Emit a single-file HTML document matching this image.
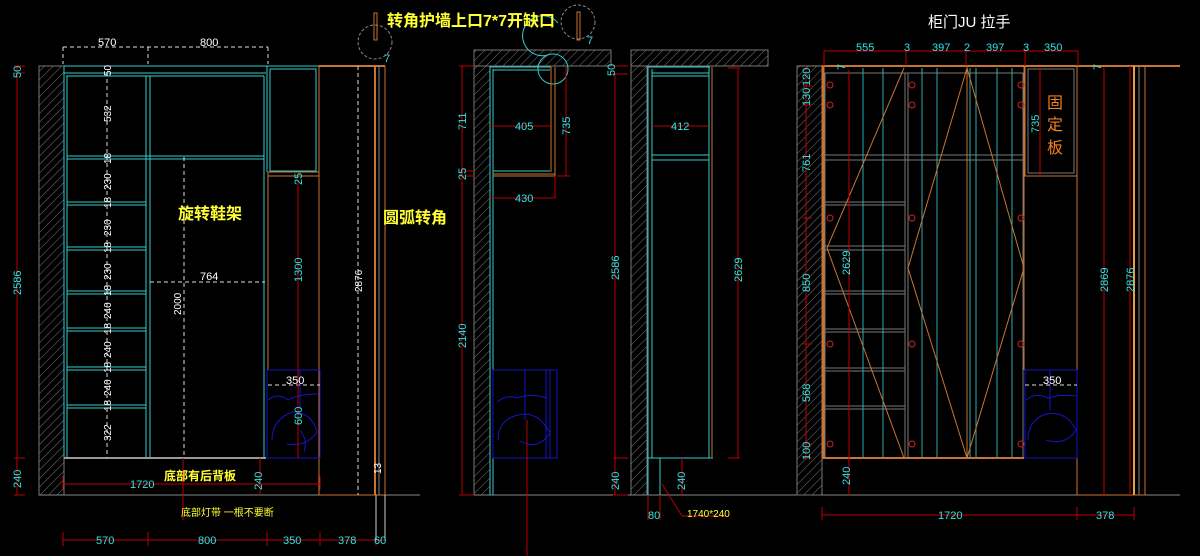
<!DOCTYPE html>
<html><head><meta charset="utf-8"><style>
html,body{margin:0;padding:0;background:#000;width:1200px;height:556px;overflow:hidden}
svg{display:block}
text{font-family:"Liberation Sans","Noto Sans CJK SC",sans-serif}
.c{fill:#2ee6e6;font-size:11px}
.w{fill:#fff;font-size:11px}
.y{fill:#ffff33}
</style></head><body>
<svg width="1200" height="556" viewBox="0 0 1200 556">
<defs>
<pattern id="h" width="6" height="6" patternUnits="userSpaceOnUse" patternTransform="rotate(45)">
<line x1="0" y1="0" x2="0" y2="6" stroke="#777" stroke-width="1"/></pattern>
</defs>
<g fill="none" stroke-width="1">
<!-- ===== LEFT ===== -->
<rect x="39" y="66" width="25" height="429" fill="url(#h)" stroke="#777"/>
<line x1="39" y1="495" x2="420" y2="495" stroke="#888"/>
<line x1="64" y1="66" x2="320" y2="66" stroke="#3cc"/>
<g stroke="#3cc">
<line x1="64" y1="73" x2="266" y2="73"/><line x1="66" y1="76" x2="264" y2="76"/>
<line x1="64" y1="66" x2="64" y2="458"/><line x1="67" y1="76" x2="67" y2="458"/>
<line x1="146" y1="76" x2="146" y2="458"/><line x1="150" y1="76" x2="150" y2="458"/>
<line x1="264" y1="76" x2="264" y2="458"/><line x1="267" y1="66" x2="267" y2="172"/>
<line x1="67" y1="156" x2="264" y2="156"/><line x1="67" y1="159" x2="264" y2="159"/>
<line x1="67" y1="202" x2="146" y2="202"/><line x1="67" y1="205" x2="146" y2="205"/>
<line x1="67" y1="247" x2="146" y2="247"/><line x1="67" y1="250" x2="146" y2="250"/>
<line x1="67" y1="291" x2="146" y2="291"/><line x1="67" y1="294" x2="146" y2="294"/>
<line x1="67" y1="328" x2="146" y2="328"/><line x1="67" y1="331" x2="146" y2="331"/>
<line x1="67" y1="367" x2="146" y2="367"/><line x1="67" y1="370" x2="146" y2="370"/>
<line x1="67" y1="405" x2="146" y2="405"/><line x1="67" y1="408" x2="146" y2="408"/>
<rect x="270" y="69" width="46" height="102"/>
</g>
<line x1="64" y1="458" x2="266" y2="458" stroke="#999" stroke-width="2"/>
<g stroke="#c87533">
<line x1="268" y1="172" x2="319" y2="172"/><line x1="268" y1="176" x2="319" y2="176"/>
<line x1="268" y1="172" x2="268" y2="370"/><line x1="319" y1="66" x2="319" y2="495"/>
<line x1="319" y1="66" x2="385" y2="66" stroke-width="2"/>
<line x1="375" y1="66" x2="375" y2="495" stroke-width="2"/><line x1="385" y1="66" x2="385" y2="495"/>
<line x1="319" y1="495" x2="385" y2="495"/>
</g>
<line x1="379" y1="66" x2="379" y2="495" stroke="#888"/>
<rect x="267" y="370" width="53" height="88" stroke="#1515c8"/>
<path d="M268 400 q10-8 20 0 q10-6 30-6 M272 440 q0-20 20-28 q20 0 25 20 q-10 15-30 12 M300 370 v40 M300 430 q8 10 4 22" stroke="#1515c8"/>
<g stroke="#ddd" stroke-dasharray="4,3">
<line x1="63" y1="47" x2="268" y2="47"/><line x1="107" y1="72" x2="107" y2="458"/>
<line x1="184" y1="157" x2="184" y2="458"/><line x1="150" y1="282" x2="265" y2="282"/>
<line x1="358" y1="66" x2="358" y2="495"/><line x1="268" y1="385" x2="320" y2="385"/>
<line x1="63" y1="47" x2="63" y2="64"/><line x1="148" y1="47" x2="148" y2="64"/><line x1="268" y1="47" x2="268" y2="64"/>
</g>
<g stroke="#b00">
<line x1="17" y1="66" x2="17" y2="495"/>
<line x1="14" y1="66" x2="25" y2="66"/><line x1="14" y1="73" x2="25" y2="73"/><line x1="14" y1="458" x2="25" y2="458"/><line x1="14" y1="495" x2="25" y2="495"/>
<line x1="298" y1="180" x2="298" y2="458"/>
<line x1="63" y1="484" x2="320" y2="484"/><line x1="63" y1="476" x2="63" y2="490"/><line x1="320" y1="476" x2="320" y2="490"/>
<line x1="260" y1="458" x2="260" y2="495"/>
<line x1="183" y1="458" x2="183" y2="520"/>
<line x1="63" y1="540" x2="385" y2="540"/>
<line x1="63" y1="532" x2="63" y2="546"/><line x1="148" y1="532" x2="148" y2="546"/><line x1="267" y1="532" x2="267" y2="546"/><line x1="320" y1="532" x2="320" y2="546"/><line x1="376" y1="532" x2="376" y2="546"/>
</g>
<line x1="376" y1="495" x2="376" y2="540" stroke="#ccc"/><line x1="385" y1="495" x2="385" y2="540" stroke="#ccc"/>
<circle cx="375" cy="42" r="17" stroke="#888" stroke-dasharray="3,2"/>
<rect x="374" y="13" width="3" height="27" stroke="#c87533"/>
<!-- ===== MIDDLE ===== -->
<rect x="474" y="66" width="16" height="429" fill="url(#h)" stroke="#777"/>
<rect x="474" y="50" width="137" height="16" fill="url(#h)" stroke="#777"/>
<rect x="631" y="66" width="16" height="429" fill="url(#h)" stroke="#777"/>
<rect x="631" y="50" width="137" height="16" fill="url(#h)" stroke="#777"/>
<line x1="462" y1="495" x2="1180" y2="495" stroke="#888"/>
<g stroke="#3cc">
<line x1="490" y1="66" x2="490" y2="495"/><line x1="493" y1="69" x2="493" y2="495"/>
<line x1="490" y1="67" x2="551" y2="67"/><line x1="493" y1="70" x2="550" y2="70"/>
<line x1="493" y1="171" x2="550" y2="171"/>
<circle cx="553" cy="69" r="15"/><path d="M548 55 a20 20 0 1 1 10-32"/>
<line x1="648" y1="66" x2="648" y2="495"/><line x1="652" y1="69" x2="652" y2="458"/>
<line x1="648" y1="67" x2="710" y2="67"/><line x1="652" y1="73" x2="709" y2="73"/><line x1="652" y1="76" x2="709" y2="76"/>
<line x1="652" y1="155" x2="709" y2="155"/><line x1="652" y1="160" x2="709" y2="160"/>
<line x1="709" y1="67" x2="709" y2="458"/><line x1="648" y1="458" x2="713" y2="458"/>
<line x1="660" y1="458" x2="660" y2="495"/>
</g>
<g stroke="#c87533">
<line x1="551" y1="67" x2="551" y2="172"/><line x1="555" y1="67" x2="555" y2="176"/>
<line x1="493" y1="174" x2="555" y2="174"/><line x1="493" y1="176" x2="555" y2="176"/>
<line x1="712" y1="67" x2="712" y2="458"/>
</g>
<rect x="577" y="12" width="3" height="28" stroke="#c87533"/>
<circle cx="578" cy="22" r="17" stroke="#888" stroke-dasharray="3,2"/>
<rect x="493" y="370" width="64" height="88" stroke="#1515c8"/>
<path d="M550 370 v88 M546 370 v88 M497 402 q10-8 20-4 q15-5 30 0 M498 440 q0-20 20-25 q20-5 32 18 q-12 18-30 8 M525 370 v50" stroke="#1515c8"/>
<g stroke="#b00">
<line x1="462" y1="66" x2="462" y2="495"/><line x1="459" y1="66" x2="474" y2="66"/><line x1="459" y1="495" x2="474" y2="495"/>
<line x1="459" y1="171" x2="474" y2="171"/><line x1="459" y1="176" x2="474" y2="176"/>
<line x1="490" y1="126" x2="550" y2="126"/><line x1="490" y1="198" x2="555" y2="198"/><line x1="555" y1="176" x2="555" y2="198"/>
<line x1="566" y1="66" x2="566" y2="176"/><line x1="557" y1="176" x2="570" y2="176"/>
<line x1="615" y1="74" x2="615" y2="495"/><line x1="610" y1="66" x2="628" y2="66"/><line x1="610" y1="74" x2="628" y2="74"/><line x1="613" y1="458" x2="628" y2="458"/><line x1="613" y1="495" x2="628" y2="495"/>
<line x1="652" y1="126" x2="709" y2="126"/>
<line x1="738" y1="68" x2="738" y2="458"/><line x1="728" y1="68" x2="740" y2="68"/><line x1="728" y1="458" x2="740" y2="458"/>
<line x1="682" y1="458" x2="682" y2="495"/>
<line x1="527" y1="420" x2="527" y2="556"/>
<path d="M662 484 L682 516 L726 516"/>
<line x1="648" y1="495" x2="648" y2="520"/><line x1="660" y1="495" x2="660" y2="520"/>
</g>
<!-- ===== RIGHT ===== -->
<rect x="797" y="66" width="25" height="429" fill="url(#h)" stroke="#777"/>
<line x1="797" y1="66" x2="1180" y2="66" stroke="#888"/>
<g stroke="#777">
<rect x="825" y="73" width="198" height="385"/>
<line x1="825" y1="155" x2="1023" y2="155"/><line x1="825" y1="160" x2="1023" y2="160"/>
<line x1="825" y1="202" x2="905" y2="202"/><line x1="825" y1="205" x2="905" y2="205"/>
<line x1="825" y1="246" x2="905" y2="246"/><line x1="825" y1="250" x2="905" y2="250"/>
<line x1="825" y1="291" x2="905" y2="291"/><line x1="825" y1="294" x2="905" y2="294"/>
<line x1="825" y1="329" x2="905" y2="329"/><line x1="825" y1="332" x2="905" y2="332"/>
<line x1="825" y1="368" x2="905" y2="368"/><line x1="825" y1="371" x2="905" y2="371"/>
<line x1="825" y1="406" x2="905" y2="406"/><line x1="825" y1="409" x2="905" y2="409"/>
<line x1="905" y1="73" x2="905" y2="458"/><line x1="908" y1="73" x2="908" y2="458"/>
</g>
<g stroke="#3aa">
<line x1="863" y1="68" x2="863" y2="458"/><line x1="883" y1="68" x2="883" y2="458"/>
<line x1="922" y1="68" x2="922" y2="458"/><line x1="937" y1="68" x2="937" y2="458"/>
<line x1="970" y1="68" x2="970" y2="458"/><line x1="976" y1="68" x2="976" y2="458"/>
<line x1="997" y1="68" x2="997" y2="458"/><line x1="1012" y1="68" x2="1012" y2="458"/>
</g>
<g stroke="#c87533">
<line x1="822" y1="66" x2="1180" y2="66" stroke-width="2"/>
<line x1="823" y1="66" x2="823" y2="458" stroke-width="3"/>
<line x1="822" y1="458" x2="1024" y2="458" stroke-width="2"/>
<line x1="967" y1="68" x2="967" y2="458"/>
<path d="M904 68 L827 248 L904 458 M967 68 L908 268 L967 458 L1024 268 Z"/>
<rect x="1025" y="66" width="52" height="110"/><rect x="1028" y="69" width="46" height="104" stroke="#777"/>
<line x1="1024" y1="66" x2="1024" y2="370"/>
<line x1="1077" y1="66" x2="1077" y2="495"/>
<line x1="1077" y1="495" x2="1145" y2="495"/>
<line x1="1134" y1="66" x2="1134" y2="495" stroke="#e8a040" stroke-width="2"/>
<line x1="1145" y1="66" x2="1145" y2="495"/>
</g>
<line x1="1139" y1="66" x2="1139" y2="495" stroke="#888"/>
<rect x="1025" y="370" width="52" height="88" stroke="#1515c8"/>
<path d="M1026 400 q10-8 22-2 q12-4 28-2 M1028 440 q0-20 18-26 q20-4 30 16 q-10 16-30 10 M1050 370 v40" stroke="#1515c8"/>
<g stroke="#c22">
<circle cx="830" cy="85" r="3"/><circle cx="830" cy="105" r="3"/><circle cx="830" cy="218" r="3"/><circle cx="830" cy="344" r="3"/><circle cx="830" cy="444" r="3"/>
<circle cx="912" cy="85" r="3"/><circle cx="912" cy="105" r="3"/><circle cx="912" cy="218" r="3"/><circle cx="912" cy="344" r="3"/><circle cx="912" cy="444" r="3"/>
<circle cx="1021" cy="85" r="3"/><circle cx="1021" cy="105" r="3"/><circle cx="1021" cy="218" r="3"/><circle cx="1021" cy="344" r="3"/><circle cx="1021" cy="444" r="3"/>
</g>
<g stroke="#b00">
<line x1="824" y1="51" x2="1078" y2="51"/>
<line x1="824" y1="51" x2="824" y2="66"/><line x1="906" y1="51" x2="906" y2="66"/><line x1="966" y1="51" x2="966" y2="66"/><line x1="1025" y1="51" x2="1025" y2="66"/><line x1="1078" y1="51" x2="1078" y2="66"/>
<line x1="806" y1="66" x2="806" y2="458"/>
<line x1="803" y1="86" x2="812" y2="86"/><line x1="803" y1="105" x2="812" y2="105"/><line x1="803" y1="218" x2="812" y2="218"/><line x1="803" y1="344" x2="812" y2="344"/><line x1="803" y1="444" x2="812" y2="444"/><line x1="803" y1="458" x2="812" y2="458"/>
<line x1="849" y1="70" x2="849" y2="495"/>
<line x1="1040" y1="68" x2="1040" y2="176"/>
<line x1="1104" y1="68" x2="1104" y2="495"/><line x1="1130" y1="66" x2="1130" y2="495"/>
<line x1="822" y1="515" x2="1134" y2="515"/><line x1="822" y1="507" x2="822" y2="520"/><line x1="1077" y1="507" x2="1077" y2="520"/><line x1="1134" y1="507" x2="1134" y2="520"/>
</g>
<line x1="1025" y1="385" x2="1077" y2="385" stroke="#ddd" stroke-dasharray="4,3"/>
</g>
<!-- TEXT -->
<text class="y" x="387" y="26" style="font-size:16px;font-weight:bold">转角护墙上口7*7开缺口</text>
<text class="y" x="178" y="219" style="font-size:16px;font-weight:bold">旋转鞋架</text>
<text class="y" x="383" y="223" style="font-size:16px;font-weight:bold">圆弧转角</text>
<text class="y" x="164" y="480" style="font-size:12px;font-weight:bold">底部有后背板</text>
<text class="y" x="181" y="516" style="font-size:10px">底部灯带 一根不要断</text>
<text class="y" x="687" y="517" style="font-size:10px">1740*240</text>
<text x="928" y="27" fill="#fff" style="font-size:15px">柜门JU 拉手</text>
<text x="1047" y="108" fill="#f08020" style="font-size:16px">固</text>
<text x="1047" y="130" fill="#f08020" style="font-size:16px">定</text>
<text x="1047" y="153" fill="#f08020" style="font-size:16px">板</text>
<g class="w"><text x="98" y="46">570</text><text x="200" y="46">800</text><text x="200" y="280">764</text><text x="286" y="384">350</text><text x="1043" y="384">350</text></g>
<g class="c">
<text x="130" y="488">1720</text><text x="96" y="544">570</text><text x="198" y="544">800</text><text x="283" y="544">350</text><text x="338" y="544">378</text><text x="374" y="544">60</text>
<text x="515" y="130">405</text><text x="515" y="202">430</text><text x="671" y="130">412</text>
<text x="648" y="519">80</text>
<text x="938" y="519">1720</text><text x="1096" y="519">378</text>
<text x="856" y="51">555</text><text x="904" y="51">3</text><text x="932" y="51">397</text><text x="964" y="51">2</text><text x="986" y="51">397</text><text x="1023" y="51">3</text><text x="1044" y="51">350</text>
<text x="384" y="62">7</text><text x="587" y="44">7</text>
</g>
<g class="c">
<text transform="translate(21,78) rotate(-90)">50</text>
<text transform="translate(21,295) rotate(-90)">2586</text>
<text transform="translate(21,488) rotate(-90)">240</text>
<text transform="translate(302,185) rotate(-90)">25</text>
<text transform="translate(302,282) rotate(-90)">1300</text>
<text transform="translate(302,425) rotate(-90)">600</text>
<text transform="translate(262,490) rotate(-90)">240</text>
<text transform="translate(466,130) rotate(-90)">711</text>
<text transform="translate(466,180) rotate(-90)">25</text>
<text transform="translate(466,348) rotate(-90)">2140</text>
<text transform="translate(570,135) rotate(-90)">735</text>
<text transform="translate(615,76) rotate(-90)">50</text>
<text transform="translate(619,280) rotate(-90)">2586</text>
<text transform="translate(619,490) rotate(-90)">240</text>
<text transform="translate(742,282) rotate(-90)">2629</text>
<text transform="translate(685,490) rotate(-90)">240</text>
<text transform="translate(810,86) rotate(-90)">120</text>
<text transform="translate(810,106) rotate(-90)">130</text>
<text transform="translate(810,172) rotate(-90)">761</text>
<text transform="translate(810,292) rotate(-90)">850</text>
<text transform="translate(810,402) rotate(-90)">568</text>
<text transform="translate(810,460) rotate(-90)">100</text>
<text transform="translate(850,275) rotate(-90)">2629</text>
<text transform="translate(850,485) rotate(-90)">240</text>
<text transform="translate(1039,133) rotate(-90)">735</text>
<text transform="translate(1108,292) rotate(-90)">2869</text>
<text transform="translate(1134,292) rotate(-90)">2876</text>
<text transform="translate(845,70) rotate(-90)">7</text>
<text transform="translate(1101,70) rotate(-90)">7</text>
</g>
<g class="w" style="font-size:10px">
<text transform="translate(111,76) rotate(-90)">50</text>
<text transform="translate(111,122) rotate(-90)">532</text>
<text transform="translate(111,164) rotate(-90)">18</text>
<text transform="translate(111,190) rotate(-90)">230</text>
<text transform="translate(111,208) rotate(-90)">18</text>
<text transform="translate(111,236) rotate(-90)">230</text>
<text transform="translate(111,253) rotate(-90)">18</text>
<text transform="translate(111,280) rotate(-90)">230</text>
<text transform="translate(111,296) rotate(-90)">18</text>
<text transform="translate(111,319) rotate(-90)">240</text>
<text transform="translate(111,334) rotate(-90)">18</text>
<text transform="translate(111,358) rotate(-90)">240</text>
<text transform="translate(111,373) rotate(-90)">18</text>
<text transform="translate(111,396) rotate(-90)">240</text>
<text transform="translate(111,411) rotate(-90)">18</text>
<text transform="translate(111,441) rotate(-90)">322</text>
<text transform="translate(181,315) rotate(-90)">2000</text>
<text transform="translate(362,292) rotate(-90)">2876</text>
<text transform="translate(381,474) rotate(-90)">13</text>
</g>
</svg>
</body></html>
